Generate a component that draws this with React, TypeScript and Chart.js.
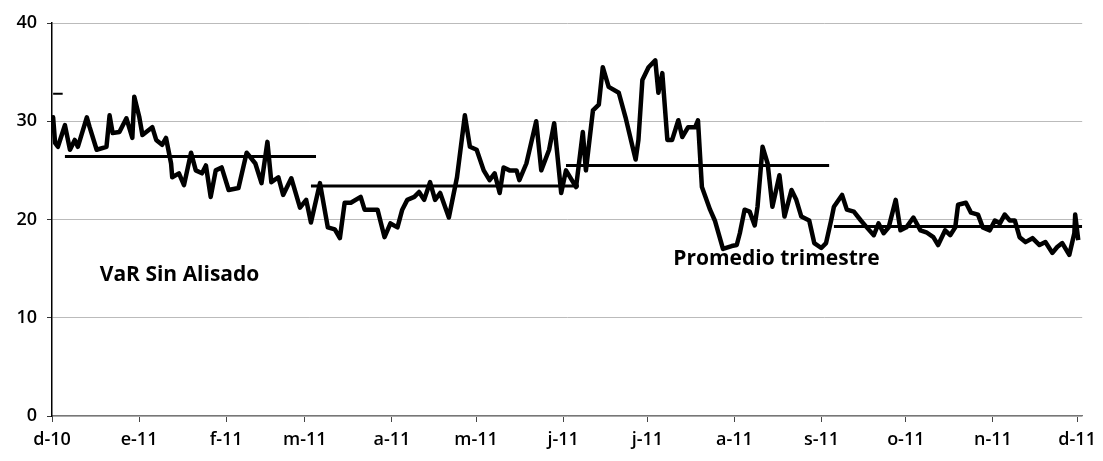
import React, { useEffect, useRef } from "react";
import { Chart, registerables } from "chart.js";

Chart.register(...registerables);

// Month tick labels and their position in days since 1-Dec-2010
const monthLabels = ["d-10", "e-11", "f-11", "m-11", "a-11", "m-11", "j-11", "j-11", "a-11", "s-11", "o-11", "n-11", "d-11"];
const monthDays = [0, 31, 62, 90, 121, 151, 182, 212, 243, 274, 304, 335, 365];

// VaR Sin Alisado: day offset and value
const dayIndex = [
  0.0, 0.4, 1.1, 2.1, 4.6, 6.4, 8.1, 9.2, 12.4, 13.4, 15.9, 19.4, 20.5, 21.6, 24.0, 26.5, 28.6, 29.3, 31.1, 32.2,
  35.7, 37.1, 39.2, 40.6, 42.4, 42.8, 45.2, 47.0, 49.5, 51.2, 53.4, 54.8, 56.5, 58.3, 60.4, 62.9, 66.4, 69.3, 72.4, 74.6,
  76.7, 78.1, 80.6, 82.3, 85.2, 88.3, 90.5, 92.2, 95.4, 98.2, 100.7, 102.5, 104.2, 106.4, 109.9, 111.3, 115.9, 118.4, 120.5, 123.0,
  124.7, 126.5, 129.0, 130.7, 132.5, 134.6, 136.4, 138.2, 141.3, 144.2, 147.0, 148.8, 151.2, 153.7, 155.8, 157.6, 159.4, 160.8, 162.9, 165.4,
  166.4, 168.9, 172.4, 174.2, 177.0, 178.8, 181.3, 183.0, 186.6, 189.0, 190.1, 192.6, 194.7, 196.1, 198.2, 201.8, 204.2, 206.7, 207.8, 208.8,
  210.2, 212.4, 214.8, 215.9, 217.3, 219.1, 220.8, 223.0, 224.4, 226.5, 229.0, 230.0, 231.4, 234.3, 236.0, 238.9, 242.0, 243.8, 244.9, 246.6,
  248.4, 250.2, 251.2, 253.0, 254.8, 256.5, 259.0, 260.8, 263.3, 265.0, 266.8, 269.6, 271.4, 273.9, 275.6, 277.4, 278.4, 281.3, 283.0, 285.5,
  288.0, 290.1, 292.6, 294.3, 296.1, 297.9, 300.4, 302.1, 304.2, 306.7, 309.2, 311.3, 313.8, 315.5, 318.0, 319.8, 321.6, 322.6, 325.4, 327.2,
  329.7, 331.4, 333.9, 335.7, 337.5, 339.2, 341.0, 342.8, 344.5, 346.6, 349.1, 351.6, 353.7, 356.2, 357.9, 359.7, 362.2, 364.0, 364.3, 365.4,
];
const varSinAlisado = [
  29.1, 30.4, 27.8, 27.4, 29.6, 27.1, 28.1, 27.4, 30.4, 29.4, 27.1, 27.4, 30.6, 28.8, 28.9, 30.3, 28.3, 32.5, 30.4, 28.6,
  29.4, 28.1, 27.6, 28.3, 25.7, 24.3, 24.7, 23.5, 26.8, 25.0, 24.7, 25.5, 22.3, 25.0, 25.3, 23.0, 23.2, 26.8, 25.7, 23.7,
  27.9, 23.8, 24.3, 22.5, 24.2, 21.2, 22.0, 19.7, 23.7, 19.2, 19.0, 18.1, 21.7, 21.7, 22.3, 21.0, 21.0, 18.2, 19.6, 19.2,
  21.0, 22.0, 22.3, 22.8, 22.0, 23.8, 22.0, 22.7, 20.2, 24.3, 30.6, 27.4, 27.1, 25.0, 24.0, 24.7, 22.7, 25.3, 25.0, 25.0,
  24.0, 25.7, 30.0, 25.0, 27.1, 29.8, 22.7, 25.0, 23.3, 28.9, 25.0, 31.1, 31.7, 35.5, 33.5, 32.9, 30.4, 27.4, 26.1, 28.1,
  34.2, 35.5, 36.2, 32.9, 34.9, 28.1, 28.1, 30.1, 28.4, 29.4, 29.4, 30.1, 23.3, 21.0, 19.9, 17.0, 17.3, 17.4, 18.6, 21.0,
  20.8, 19.4, 21.3, 27.4, 25.7, 21.3, 24.5, 20.3, 23.0, 22.0, 20.3, 19.9, 17.6, 17.1, 17.6, 19.9, 21.3, 22.5, 21.0, 20.8,
  19.9, 19.2, 18.4, 19.6, 18.6, 19.2, 22.0, 18.9, 19.2, 20.2, 18.9, 18.7, 18.2, 17.4, 18.9, 18.4, 19.2, 21.5, 21.7, 20.7,
  20.5, 19.2, 18.9, 19.9, 19.6, 20.5, 19.9, 19.9, 18.2, 17.7, 18.1, 17.4, 17.7, 16.6, 17.2, 17.6, 16.4, 18.6, 20.5, 17.9,
];

// Promedio trimestre (quarterly averages)
const quarterStart = [4.6, 92.2, 183.0, 278.4];
const quarterEnd = [94.0, 187.6, 276.7, 366.8];
const quarterAvg = [26.4, 23.4, 25.5, 19.3];

// Small mark near the top of the y axis
const markStart = [0.4];
const markEnd = [3.8];
const markValue = [32.8];

const labelsPlugin = {
  id: "chartTexts",
  afterDraw(chart: any) {
    const { ctx, scales } = chart;
    const xs = scales.x;
    const ys = scales.y;
    ctx.save();
    ctx.fillStyle = "#000";
    ctx.textBaseline = "middle";
    ctx.textAlign = "left";
    ctx.font = "bold 21px 'Open Sans', sans-serif";
    ctx.fillText("VaR Sin Alisado", xs.getPixelForValue(17), ys.getPixelForValue(14.3));
    ctx.fillText("Promedio trimestre", xs.getPixelForValue(221.2), ys.getPixelForValue(16.0));
    ctx.restore();
  },
};

export default function App() {
  const canvasRef = useRef<HTMLCanvasElement | null>(null);

  useEffect(() => {
    document.body.style.margin = "0";
    const canvas = canvasRef.current;
    if (!canvas) return;
    Chart.defaults.font.family = "'Open Sans', sans-serif";

    const mainData = dayIndex.map((d, i) => ({ x: d, y: varSinAlisado[i] }));
    const quarterSets = quarterAvg.map((v, i) => ({
      label: "Promedio trimestre " + (i + 1),
      data: [
        { x: quarterStart[i], y: v },
        { x: quarterEnd[i], y: v },
      ],
      borderColor: "#000",
      borderWidth: 3,
      pointRadius: 0,
      fill: false,
    }));
    const markSets = markValue.map((v, i) => ({
      label: "mark",
      data: [
        { x: markStart[i], y: v },
        { x: markEnd[i], y: v },
      ],
      borderColor: "#000",
      borderWidth: 2,
      pointRadius: 0,
      fill: false,
    }));

    const chart = new Chart(canvas, {
      type: "line",
      data: {
        datasets: [
          {
            label: "VaR Sin Alisado",
            data: mainData,
            borderColor: "#000",
            borderWidth: 4.5,
            pointRadius: 0,
            tension: 0,
            fill: false,
            borderJoinStyle: "round",
          } as any,
          ...quarterSets,
          ...markSets,
        ],
      },
      options: {
        animation: false,
        responsive: true,
        maintainAspectRatio: false,
        layout: { padding: { top: 23, right: 13, left: 0, bottom: 0 } },
        plugins: {
          legend: { display: false },
          tooltip: { enabled: false },
        },
        scales: {
          x: {
            type: "linear",
            min: 0,
            max: 366.8,
            afterBuildTicks: (scale: any) => {
              scale.ticks = monthDays.map((v) => ({ value: v }));
            },
            afterFit: (scale: any) => {
              scale.height = 45;
            },
            ticks: {
              autoSkip: false,
              maxRotation: 0,
              padding: 7,
              color: "#000",
              font: { size: 18, weight: "600" as any },
              callback: (_v: any, i: number) => monthLabels[i],
            },
            grid: {
              drawOnChartArea: false,
              drawTicks: true,
              tickLength: 6,
              tickColor: "#444",
            },
            border: { display: true, color: "#777", width: 1.2 },
          },
          y: {
            min: 0,
            max: 40,
            afterFit: (scale: any) => {
              scale.width = 52;
            },
            ticks: {
              stepSize: 10,
              padding: 10,
              color: "#000",
              font: { size: 18, weight: "600" as any },
            },
            grid: {
              drawTicks: true,
              tickLength: 5,
              tickColor: "#333",
              color: "#bbb",
              lineWidth: 1,
              borderDash: [2, 28],
            } as any,
            border: { display: true, color: "#000", width: 1.5 },
          },
        },
      },
      plugins: [labelsPlugin],
    });

    return () => chart.destroy();
  }, []);

  return (
    <div style={{ width: 1103, height: 461, position: "relative", background: "#fff" }}>
      <canvas ref={canvasRef} />
    </div>
  );
}
